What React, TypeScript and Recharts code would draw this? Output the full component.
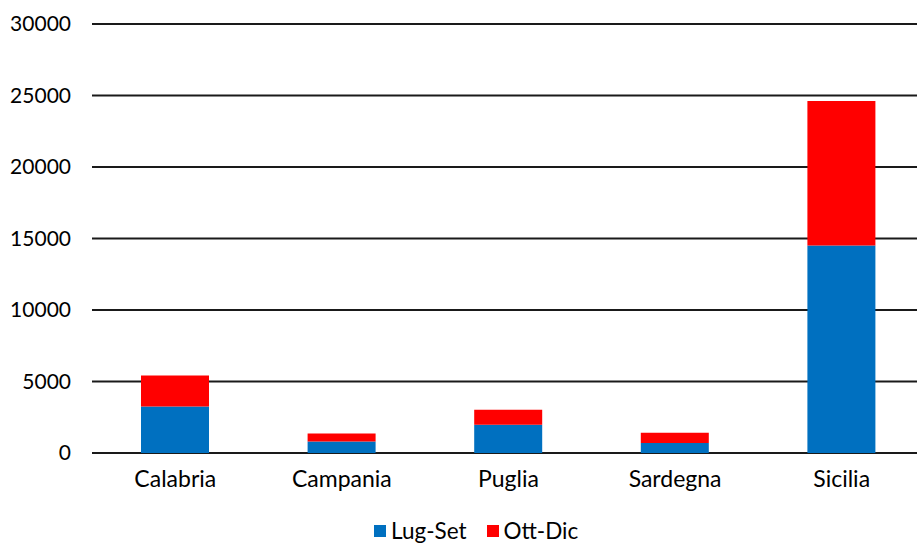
import { BarChart, Bar, XAxis, YAxis, CartesianGrid, Legend } from 'recharts';

const regions = ['Calabria', 'Campania', 'Puglia', 'Sardegna', 'Sicilia'];
const lugSet = [3260, 800, 1970, 700, 14510];
const ottDic = [2160, 560, 1060, 710, 10100];
const yTicks = [0, 5000, 10000, 15000, 20000, 25000, 30000];

const seriesMeta = [
  { key: 'lugSet', name: 'Lug-Set', color: '#0070C0' },
  { key: 'ottDic', name: 'Ott-Dic', color: '#FF0000' },
];

const data = regions.map((region, i) => ({ region, lugSet: lugSet[i], ottDic: ottDic[i] }));

const FONT = 'Lato, "Open Sans", sans-serif';

function LegendContent() {
  return (
    <div style={{ display: 'flex', alignItems: 'center', fontFamily: FONT, fontSize: 22.5, lineHeight: '26px', color: '#000' }}>
      {seriesMeta.map((s) => (
        <div key={s.key} style={{ display: 'flex', alignItems: 'center', marginRight: 20 }}>
          <span style={{ width: 12, height: 12, background: s.color, display: 'inline-block', marginRight: 5 }} />
          <span>{s.name}</span>
        </div>
      ))}
    </div>
  );
}

export default function App() {
  return (
    <div style={{ position: 'fixed', top: 0, left: 0, width: 917, height: 544, overflow: 'hidden', background: '#fff' }}>
      <BarChart width={940} height={544} data={data} margin={{ top: 24, right: 15, left: 0, bottom: 0 }}>
        <CartesianGrid vertical={false} stroke="#1a1a1a" strokeWidth={2} />
        <XAxis
          dataKey="region"
          axisLine={false}
          tickLine={false}
          height={50}
          tickMargin={12}
          tick={{ fill: '#000', fontSize: 23, fontFamily: FONT }}
        />
        <YAxis
          domain={[0, 30000]}
          ticks={yTicks}
          axisLine={false}
          tickLine={false}
          width={92}
          tickMargin={15}
          tick={{ fill: '#000', fontSize: 21, fontFamily: FONT }}
        />
        <Legend
          verticalAlign="bottom"
          content={<LegendContent />}
          wrapperStyle={{ position: 'absolute', top: 518, left: 374, width: 'auto', height: 41 }}
        />
        {seriesMeta.map((s) => (
          <Bar key={s.key} dataKey={s.key} name={s.name} stackId="a" fill={s.color} barSize={68} isAnimationActive={false} />
        ))}
      </BarChart>
    </div>
  );
}
